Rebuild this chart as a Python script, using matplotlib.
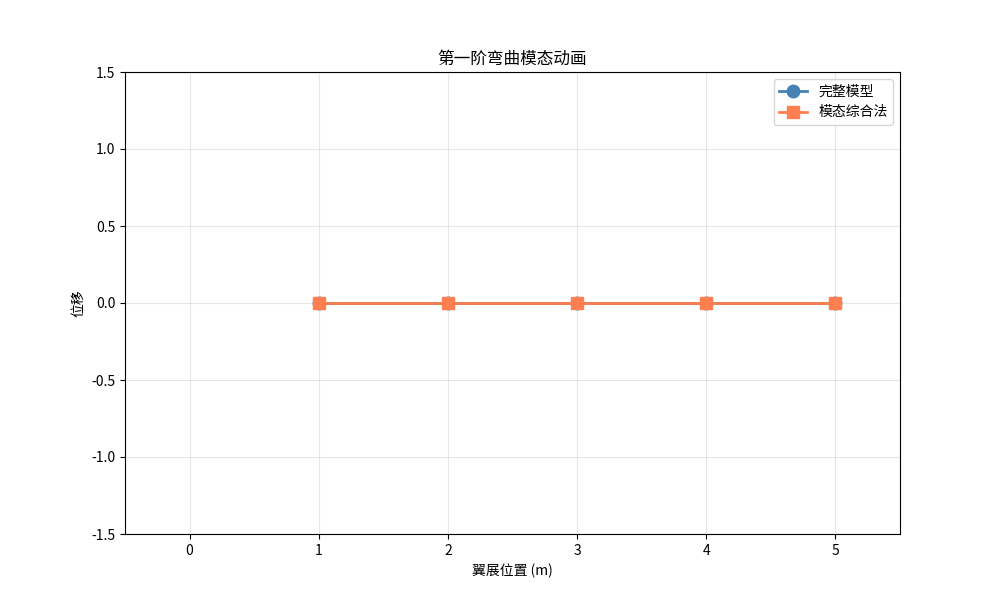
import matplotlib
matplotlib.use('Agg')
import matplotlib.pyplot as plt

plt.rcParams['font.family'] = ['Noto Sans CJK SC', 'DejaVu Sans']
plt.rcParams['axes.unicode_minus'] = False

# 数据
span_pos = [1, 2, 3, 4, 5]
disp_full = [0, 0, 0, 0, 0]
disp_cms = [0, 0, 0, 0, 0]

fig, ax = plt.subplots(figsize=(10, 6), dpi=100)

ax.plot(span_pos, disp_full, 'o-', color='#4682B4', linewidth=2,
        markersize=9, label='完整模型')
ax.plot(span_pos, disp_cms, 's-', color='#FF7F50', linewidth=2,
        markersize=9, label='模态综合法')

ax.set_xlim(-0.5, 5.5)
ax.set_ylim(-1.5, 1.5)
ax.set_xlabel('翼展位置 (m)')
ax.set_ylabel('位移')
ax.set_title('第一阶弯曲模态动画')
ax.grid(True, alpha=0.3)
ax.legend(loc='upper right')

fig.savefig('out.png', dpi=100)
